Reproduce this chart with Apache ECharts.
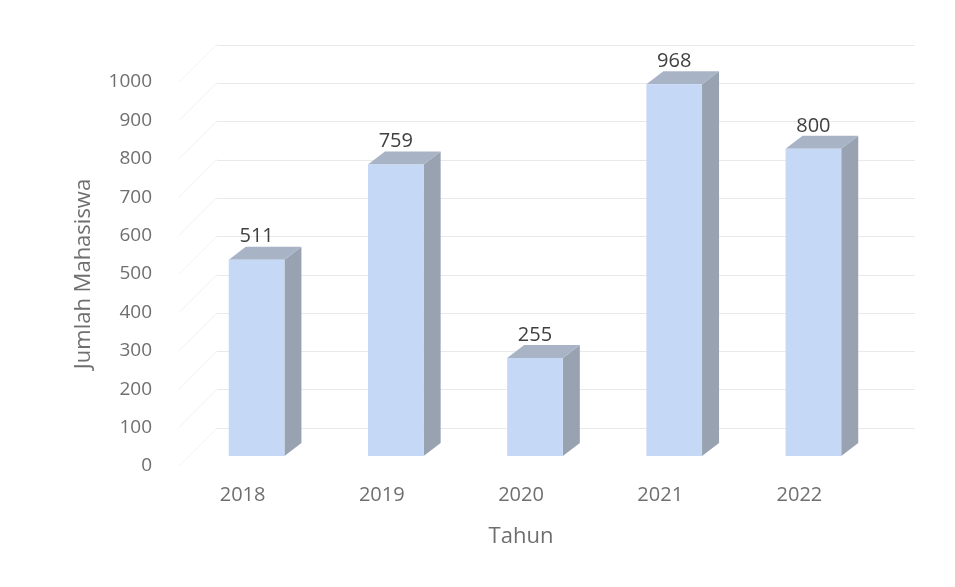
<!DOCTYPE html>
<html>
<head>
<meta charset="utf-8">
<script src="https://cdn.jsdelivr.net/npm/echarts@6/dist/echarts.min.js"></script>
<style>
  html, body { margin: 0; padding: 0; background: #fff; }
  #chart { width: 955px; height: 587px; }
</style>
</head>
<body>
<div id="chart"></div>
<script>
const years = ['2018', '2019', '2020', '2021', '2022']
const jumlah = [511, 759, 255, 968, 800]
const yTicks = [0, 100, 200, 300, 400, 500, 600, 700, 800, 900, 1000]

// fake 3D: bar front sits a bit behind the label plane
const SHIFT_X = 14
const SHIFT_Y = -10
const DEPTH_X = 17
const DEPTH_Y = -13
const WALL_X = 44
const WALL_Y = -38

const chart = echarts.init(document.getElementById('chart'))

function renderBar(params, api) {
  const i = api.value(0)
  const v = api.value(1)
  const top = api.coord([i, v])
  const base = api.coord([i, 0])
  const w = api.size([1, 0])[0] * 0.4
  const x0 = top[0] + SHIFT_X - w / 2
  const x1 = x0 + w
  const yT = top[1] + SHIFT_Y
  const yB = base[1] + SHIFT_Y
  return {
    type: 'group',
    children: [
      {
        type: 'polygon',
        shape: { points: [[x1, yT], [x1 + DEPTH_X, yT + DEPTH_Y], [x1 + DEPTH_X, yB + DEPTH_Y], [x1, yB]] },
        style: { fill: '#98a2b1' },
      },
      {
        type: 'polygon',
        shape: { points: [[x0, yT], [x0 + DEPTH_X, yT + DEPTH_Y], [x1 + DEPTH_X, yT + DEPTH_Y], [x1, yT]] },
        style: { fill: '#a8b4c6' },
      },
      {
        type: 'rect',
        shape: { x: x0, y: yT, width: w, height: yB - yT },
        style: { fill: '#c5d8f6' },
      },
      {
        type: 'text',
        x: x0 + w / 2,
        y: yT - 13,
        style: {
          text: String(v),
          fill: '#404040',
          font: '20px "Open Sans"',
          align: 'center',
          verticalAlign: 'bottom',
        },
      },
    ],
  }
}

function renderSideWall(params, api) {
  const v = api.value(0)
  const p = api.coord([0, v])
  const x = params.coordSys.x + 6
  return {
    type: 'line',
    shape: { x1: x, y1: p[1], x2: x + WALL_X - 6, y2: p[1] + WALL_Y },
    style: { stroke: '#f2f2f2', lineWidth: 1 },
  }
}

const option = {
  backgroundColor: '#ffffff',
  animation: false,
  grid: [
    { left: 173, top: 82, width: 696, height: 384 },
    { left: 217, top: 45, right: 40, height: 383 },
  ],
  xAxis: [
    {
      type: 'category',
      gridIndex: 0,
      data: years,
      axisLine: { show: false },
      axisTick: { show: false },
      axisLabel: { color: '#6f6f6f', fontSize: 20, fontFamily: 'Open Sans', margin: 19 },
      name: 'Tahun',
      nameLocation: 'middle',
      nameGap: 60,
      nameTextStyle: { color: '#6f6f6f', fontSize: 22, fontFamily: 'Open Sans' },
    },
    {
      type: 'category',
      gridIndex: 1,
      data: years,
      show: false,
    },
  ],
  yAxis: [
    {
      type: 'value',
      gridIndex: 0,
      min: 0,
      max: 1000,
      interval: 100,
      axisLine: { show: false },
      axisTick: { show: false },
      splitLine: { show: false },
      axisLabel: {
        color: '#6f6f6f',
        fontSize: 19,
        fontFamily: 'Open Sans',
        margin: 21,
        formatter: (v) => String(v),
      },
      name: 'Jumlah Mahasiswa',
      nameLocation: 'middle',
      nameRotate: 90,
      nameGap: 78,
      nameTextStyle: { color: '#6f6f6f', fontSize: 22, fontFamily: 'Open Sans' },
    },
    {
      type: 'value',
      gridIndex: 1,
      min: 0,
      max: 1000,
      interval: 100,
      axisLine: { show: false },
      axisTick: { show: false },
      axisLabel: { show: false },
      splitLine: { lineStyle: { color: '#e9e9e9', width: 1 } },
    },
  ],
  series: [
    {
      type: 'custom',
      xAxisIndex: 0,
      yAxisIndex: 0,
      renderItem: renderSideWall,
      data: yTicks.map((t) => [t]),
      encode: { y: 0 },
      silent: true,
      z: 1,
    },
    {
      type: 'custom',
      xAxisIndex: 0,
      yAxisIndex: 0,
      renderItem: renderBar,
      data: jumlah.map((v, i) => [i, v]),
      encode: { x: 0, y: 1 },
      z: 3,
    },
  ],
}

chart.setOption(option)
</script>
</body>
</html>
